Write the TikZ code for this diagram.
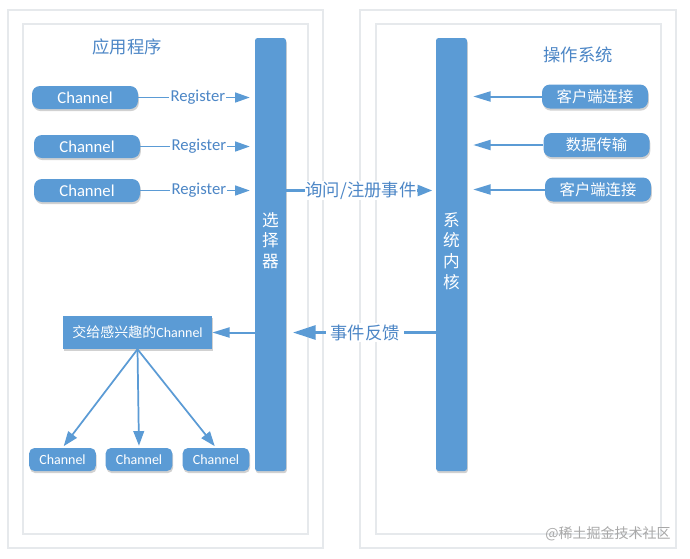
\documentclass[tikz,border=0pt]{standalone}
\usepackage{fontspec}
\setmainfont{Carlito}
\newfontfamily\cjk{Noto Sans CJK SC}
\usetikzlibrary{arrows.meta,shadows}
\definecolor{nblue}{HTML}{5B9BD5}
\definecolor{tblue}{HTML}{4C86C6}
\definecolor{framec}{HTML}{E6E9EC}
\definecolor{wmark}{HTML}{A8A8A8}
\tikzset{
  shad/.style={drop shadow={shadow xshift=0.6pt, shadow yshift=-1.6pt, opacity=0.18, fill=black}},
  chan/.style={shad, fill=nblue, draw=none, text=white, rounded corners=6pt,
    minimum width=79.5pt, minimum height=17.25pt, inner sep=0pt, font=\fontsize{12.5}{15}\selectfont},
  small/.style={shad, fill=nblue, draw=none, text=white, rounded corners=4pt,
    minimum width=50pt, minimum height=17.25pt, inner sep=0pt, font=\fontsize{10.5}{12}\selectfont},
  osbox/.style={shad, fill=nblue, draw=none, text=white, rounded corners=6pt,
    minimum width=79.5pt, minimum height=18pt, inner sep=0pt, font=\cjk\fontsize{11.5}{14}\selectfont},
  bar/.style={shad, fill=nblue, draw=none, rounded corners=2pt,
    minimum width=23.25pt, minimum height=324.75pt, inner sep=0pt},
  bartext/.style={text=white, align=center, font=\cjk\fontsize{12.5}{15.5}\selectfont, inner sep=0pt},
  title/.style={text=tblue, font=\cjk\fontsize{13}{15}\selectfont},
  lbl/.style={fill=white, text=tblue, inner sep=1pt},
  frame/.style={draw=framec, line width=0.8pt},
  reg/.style={draw=nblue, line width=1.1pt, -{Triangle[length=11pt, width=7.5pt]}, shorten >=3.75pt},
  osarr/.style={draw=nblue, line width=1.5pt, -{Triangle[length=13pt, width=7.5pt]}, shorten >=4.5pt},
  bigarr/.style={draw=nblue, line width=2.2pt, -{Triangle[length=11pt, width=8pt]}},
  fbarr/.style={draw=nblue, line width=2.2pt, -{Triangle[length=17pt, width=10.5pt]}},
  fan/.style={draw=nblue, line width=1.3pt, -{Triangle[length=11pt, width=8pt]}, shorten >=1.5pt},
}
\begin{document}
\begin{tikzpicture}[x=0.75pt, y=-0.75pt]
\useasboundingbox (0,0) rectangle (690,558);
\fill[white] (0,0) rectangle (690,558);
% frames
\draw[frame] (8,10) rectangle (323,548);
\draw[frame] (23,24) rectangle (308,534);
\draw[frame] (360,10) rectangle (676,548);
\draw[frame] (376,24) rectangle (661,534);
% titles
\node[title] (t1) at (127,47) {应用程序};
\node[title] (t2) at (578,55) {操作系统};
% bars
\node[bar] (sel) at (270.5,254.5) {};
\node[bar] (ker) at (451.5,254.5) {};
\node[bartext, anchor=north] (selt) at (270.5,212) {选\\择\\器};
\node[bartext, anchor=north] (kert) at (451.5,212) {系\\统\\内\\核};
% channels
\node[chan] (c1) at (85,97.5) {Channel};
\node[chan] (c2) at (87,146.5) {Channel};
\node[chan] (c3) at (87,190.5) {Channel};
% os boxes
\node[osbox] (k1) at (595,96.5) {客户端连接};
\node[osbox] (k2) at (596.5,145) {数据传输};
\node[osbox] (k3) at (598,189.5) {客户端连接};
% interested box
\node[shad, fill=nblue, text=white, minimum width=111.75pt, minimum height=24.75pt, inner sep=0pt,
  font=\fontsize{10.5}{12}\selectfont] (jiao) at (137.5,332.5) {{\cjk 交给感兴趣的}Channel};
% bottom channels
\node[small] (b1) at (62.5,459.5) {Channel};
\node[small] (b2) at (139,459.5) {Channel};
\node[small] (b3) at (216,459.5) {Channel};
% register arrows
\foreach \c in {c1,c2,c3}{
  \draw[reg] (\c.east) -- node[lbl, font=\fontsize{12.5}{15}\selectfont, xshift=1pt] {Register} (\c.east -| sel.west);
}
% os arrows
\foreach \k in {k1,k2,k3}{
  \draw[osarr] (\k.west) -- (\k.west -| ker.east);
}
% query/register
\draw[bigarr, shorten >=2.5pt] (c3 -| sel.east) -- node[lbl, font=\cjk\fontsize{13}{15}\selectfont, inner sep=0.5pt] {询问/注册事件} (c3 -| ker.west);
% feedback
\draw[fbarr, shorten >=5pt] (jiao -| ker.west) -- node[lbl, font=\cjk\fontsize{13}{15}\selectfont, xshift=3pt, inner xsep=3pt] {事件反馈} (jiao -| sel.east);
% selector to interested box
\draw[osarr, shorten >=0pt] (jiao -| sel.west) -- (jiao.east);
% fan out
\draw[fan] (jiao.south) -- (b1.north);
\draw[fan] (jiao.south) -- (b2.north);
\draw[fan] (jiao.south) -- (b3.north);
% watermark
\node[text=wmark, font=\cjk\fontsize{10.5}{12}\selectfont, inner sep=0pt] (wm) at (608,534) {@稀土掘金技术社区};
\end{tikzpicture}
\end{document}
